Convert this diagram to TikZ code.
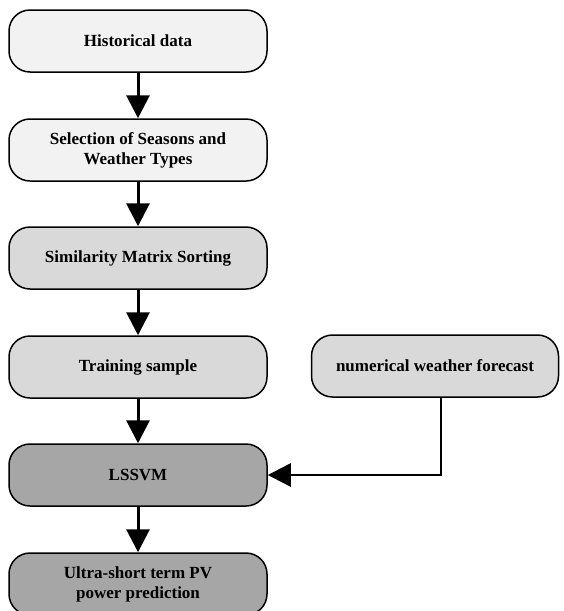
\documentclass[tikz,border=0pt]{standalone}
\usepackage{fontspec}
\setmainfont{Liberation Serif}
\usetikzlibrary{arrows.meta}
\definecolor{lightfill}{HTML}{F2F2F2}
\definecolor{midfill}{HTML}{D9D9D9}
\definecolor{darkfill}{HTML}{A6A6A6}
\begin{document}
\begin{tikzpicture}[x=1pt,y=-1pt,line join=round,
	box/.style={draw,line width=1.5pt,rounded corners=21pt,minimum width=258pt,minimum height=62pt,
		align=center,inner sep=0pt,font=\fontsize{17}{20}\selectfont\bfseries},
	flow/.style={line width=3pt,-{Triangle[length=23pt,width=23pt]}}]
	\useasboundingbox (0,0) rectangle (564,611);
	% main chain
	\node[box,fill=lightfill] (hist) at (138,41) {Historical data};
	\node[box,fill=lightfill] (sel) at (138,150) {Selection of Seasons and\\Weather Types};
	\node[box,fill=midfill] (sim) at (138,258) {Similarity Matrix Sorting};
	\node[box,fill=midfill] (train) at (138,367) {Training sample};
	\node[box,fill=darkfill] (lssvm) at (138,475) {LSSVM};
	\node[box,fill=darkfill] (pred) at (138,584) {Ultra-short term PV\\power prediction};
	% side input
	\node[box,fill=midfill,minimum width=247pt] (nwf) at (435,366) {numerical weather forecast};
	\coordinate (drop) at ([xshift=6pt]nwf.south);
	\coordinate (corner) at (drop |- lssvm.east);
	\draw[flow] (hist) -- (sel);
	\draw[flow] (sel) -- (sim);
	\draw[flow] (sim) -- (train);
	\draw[flow] (train) -- (lssvm);
	\draw[flow] (lssvm) -- (pred);
	\draw[flow,line width=2.5pt,line join=miter] (drop) -- (corner) -- (lssvm.east);
\end{tikzpicture}
\end{document}
